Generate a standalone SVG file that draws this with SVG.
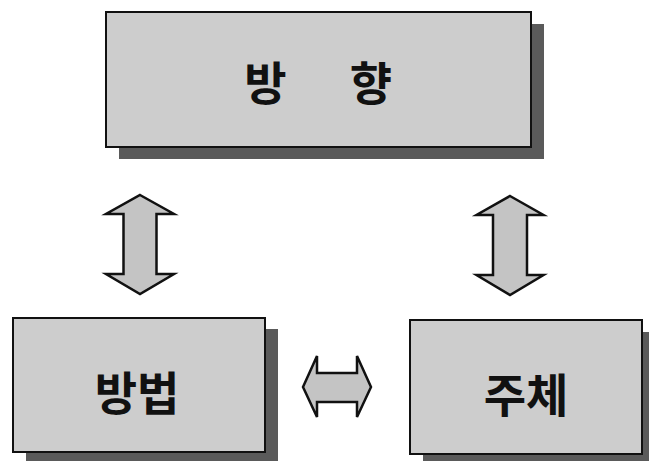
<svg xmlns="http://www.w3.org/2000/svg" width="649" height="461" viewBox="0 0 649 461">
<style>
.shadow{fill:#5a5a5a}
.box{fill:#cdcdcd;stroke:#111;stroke-width:2}
.lbl{font-family:"Noto Sans CJK KR","Noto Sans",sans-serif;font-weight:bold;font-size:46px;fill:#111;text-anchor:middle;dominant-baseline:central}
.arrow{fill:#c4c4c4;stroke:#111;stroke-width:2.5;stroke-linejoin:miter}
</style>
<rect width="649" height="461" fill="#fff"/>
<g id="node-banghyang">
<rect class="shadow" x="119" y="24" width="425" height="135"/>
<rect class="box" x="106" y="12" width="425" height="135"/>
<text class="lbl" y="80"><tspan x="265.5">방</tspan><tspan x="371">향</tspan></text>
</g>
<g id="node-bangbeop">
<rect class="shadow" x="26" y="329" width="252" height="132"/>
<rect class="box" x="13" y="318" width="252" height="134"/>
<text class="lbl" x="137" y="390">방법</text>
</g>
<g id="node-juche">
<rect class="shadow" x="423" y="332" width="240" height="129"/>
<rect class="box" x="410" y="320" width="232" height="134"/>
<text class="lbl" x="526" y="392">주체</text>
</g>
<g id="connectors">
<polygon class="arrow" points="140,195 174,214 156.5,214 156.5,274 174,274 140,294 106,274 123.5,274 123.5,214 106,214"/>
<polygon class="arrow" points="510,196 543.5,215 527,215 527,275 543.5,275 510,295 476.5,275 493,275 493,215 476.5,215"/>
<polygon class="arrow" points="303,387 317,356 317,373 357,373 357,356 371,387 357,417 357,402 317,402 317,417"/>
</g>
</svg>
